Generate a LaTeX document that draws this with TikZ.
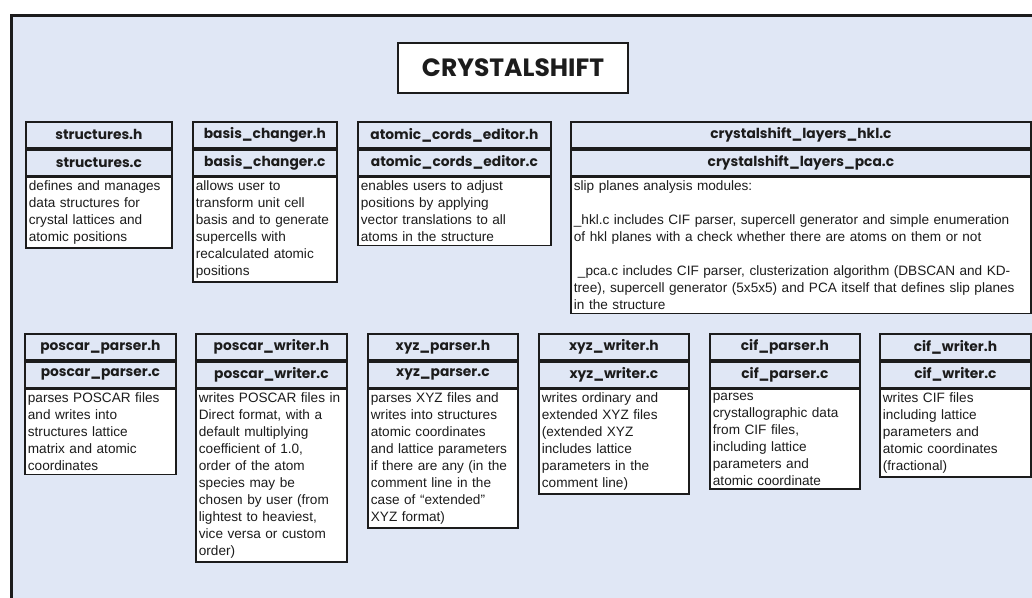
\documentclass[tikz,border=0pt]{standalone}
\usepackage{fontspec}
\setmainfont{Liberation Sans}
\newfontfamily\hdrfont{Poppins}
\usetikzlibrary{positioning}
\definecolor{panel}{RGB}{224,231,245}
\definecolor{ink}{RGB}{28,28,28}

\begin{document}
\begin{tikzpicture}[x=1pt, y=-1pt,
  hdr/.style={draw=ink, line width=1.8pt, fill=panel, text=ink, inner sep=0pt, minimum height=26pt, anchor=north west,
    font=\hdrfont\bfseries\fontsize{13.8}{15}\selectfont},
  hdrc/.style={hdr, below=0pt of #1},
  dsc/.style={draw=ink, line width=1.8pt, fill=white, text=ink, align=left, inner xsep=3pt, inner ysep=3.5pt,
    font=\fontsize{13.6}{17}\selectfont},
  ttl/.style={draw=ink, line width=2.5pt, fill=white, text=ink, minimum width=230pt, minimum height=50pt,
    font=\hdrfont\bfseries\fontsize{25}{28}\selectfont}
]
\useasboundingbox (0,0) rectangle (1032,597);
% panel, open towards the right and bottom
\begin{scope}
\clip (0,0) rectangle (1032,597);
\draw[ink, line width=3pt, fill=panel] (11,15) rectangle (1050,620);
\end{scope}
\node[ttl] (title) at (513,68) {CRYSTALSHIFT};
% top row: core modules
\node[hdr, minimum width=146] (strh) at (25,121) {structures.h};
\node[hdrc=strh, minimum width=146] (strc) {structures.c};
\node[dsc, text width=140, below=0pt of strc] (strd) {defines and manages\\data structures for\\crystal lattices and\\atomic positions};
\node[hdr, minimum width=144] (bash) at (192,121) {basis\_changer.h};
\node[hdrc=bash, minimum width=144] (basc) {basis\_changer.c};
\node[dsc, text width=138, below=0pt of basc] (basd) {allows user to\\transform unit cell\\basis and to generate\\supercells with\\recalculated atomic\\positions};
\node[hdr, minimum width=193] (acth) at (357,121) {atomic\_cords\_editor.h};
\node[hdrc=acth, minimum width=193] (actc) {atomic\_cords\_editor.c};
\node[dsc, text width=187, below=0pt of actc] (actd) {enables users to adjust\\positions by applying\\vector translations to all\\atoms in the structure};
\node[hdr, minimum width=460] (hkl) at (570,121) {crystalshift\_layers\_hkl.c};
\node[hdrc=hkl, minimum width=460] (pca) {crystalshift\_layers\_pca.c};
\node[dsc, text width=454, below=0pt of pca] (slpd) {slip planes analysis modules:\\[17pt]
  \_hkl.c includes CIF parser, supercell generator and simple enumeration\\of hkl planes with a check whether there are atoms on them or not\\[17pt]
  \hspace*{0.3em}\_pca.c includes CIF parser, clusterization algorithm (DBSCAN and KD-\\tree), supercell generator (5x5x5) and PCA itself that defines slip planes\\in the structure};
% bottom row: file formats
\node[hdr, minimum width=151] (pph) at (24,333) {poscar\_parser.h};
\node[hdrc=pph, minimum width=151] (ppc) {poscar\_parser.c};
\node[dsc, text width=145, below=0pt of ppc] (ppd) {parses POSCAR files\\and writes into\\structures lattice\\matrix and atomic\\coordinates};
\node[hdr, minimum width=151] (pwh) at (195,333) {poscar\_writer.h};
\node[hdrc=pwh, minimum width=151] (pwc) {poscar\_writer.c};
\node[dsc, text width=145, below=0pt of pwc] (pwd) {writes POSCAR files in\\Direct format, with a\\default multiplying\\coefficient of 1.0,\\order of the atom\\species may be\\chosen by user (from\\lightest to heaviest,\\vice versa or custom\\order)};
\node[hdr, minimum width=150] (xph) at (367,333) {xyz\_parser.h};
\node[hdrc=xph, minimum width=150] (xpc) {xyz\_parser.c};
\node[dsc, text width=144, below=0pt of xpc] (xpd) {parses XYZ files and\\writes into structures\\atomic coordinates\\and lattice parameters\\if there are any (in the\\comment line in the\\case of “extended”\\XYZ format)};
\node[hdr, minimum width=150] (xwh) at (538,333) {xyz\_writer.h};
\node[hdrc=xwh, minimum width=150] (xwc) {xyz\_writer.c};
\node[dsc, text width=144, below=0pt of xwc] (xwd) {writes ordinary and\\extended XYZ files\\(extended XYZ\\includes lattice\\parameters in the\\comment line)};
\node[hdr, minimum width=150] (cph) at (709,333) {cif\_parser.h};
\node[hdrc=cph, minimum width=150] (cpc) {cif\_parser.c};
\node[dsc, text width=144, below=0pt of cpc] (cpd) {parses\\crystallographic data\\from CIF files,\\including lattice\\parameters and\\atomic coordinate};
\node[hdr, minimum width=151] (cwh) at (879,333) {cif\_writer.h};
\node[hdrc=cwh, minimum width=151] (cwc) {cif\_writer.c};
\node[dsc, text width=145, below=0pt of cwc] (cwd) {writes CIF files\\including lattice\\parameters and\\atomic coordinates\\(fractional)};
\end{tikzpicture}
\end{document}
